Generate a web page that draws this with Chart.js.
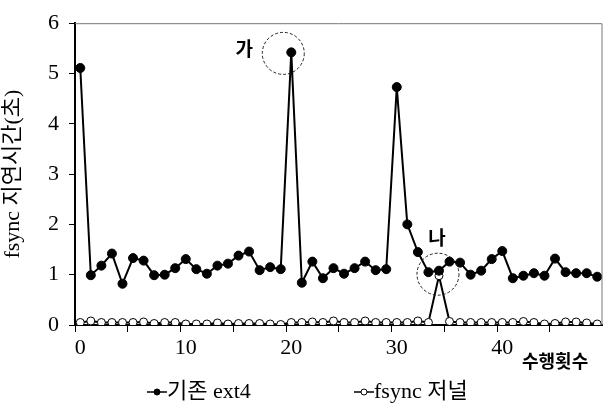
<!DOCTYPE html>
<html>
<head>
<meta charset="utf-8">
<script src="https://cdn.jsdelivr.net/npm/chart.js@4.4.1/dist/chart.umd.min.js"></script>
<style>
    html, body { margin: 0; padding: 0; background: #fff; }
    #wrap { width: 608px; height: 405px; }
</style>
</head>
<body>
<div id="wrap"><canvas id="latencyChart" width="608" height="405"></canvas></div>
<script>
const runs = ['0', '1', '2', '3', '4', '5', '6', '7', '8', '9',
    '10', '11', '12', '13', '14', '15', '16', '17', '18', '19',
    '20', '21', '22', '23', '24', '25', '26', '27', '28', '29',
    '30', '31', '32', '33', '34', '35', '36', '37', '38', '39',
    '40', '41', '42', '43', '44', '45', '46', '47', '48', '49'];

const ext4Delay = [5.11, 0.99, 1.18, 1.42, 0.82, 1.33, 1.28, 0.99, 1.00, 1.13,
    1.31, 1.11, 1.02, 1.18, 1.22, 1.38, 1.46, 1.09, 1.15, 1.11,
    5.42, 0.84, 1.26, 0.93, 1.13, 1.02, 1.13, 1.26, 1.09, 1.11,
    4.73, 2.00, 1.45, 1.05, 1.08, 1.26, 1.24, 1.00, 1.08, 1.31,
    1.47, 0.93, 0.98, 1.03, 0.98, 1.32, 1.05, 1.03, 1.03, 0.96];

const journalDelay = [0.05, 0.08, 0.05, 0.05, 0.05, 0.05, 0.06, 0.03, 0.05, 0.05,
    0.02, 0.02, 0.02, 0.04, 0.02, 0.03, 0.03, 0.03, 0.02, 0.01,
    0.05, 0.05, 0.06, 0.05, 0.08, 0.05, 0.05, 0.08, 0.05, 0.05,
    0.05, 0.05, 0.08, 0.05, 0.98, 0.07, 0.05, 0.05, 0.05, 0.05,
    0.05, 0.05, 0.07, 0.05, 0.02, 0.03, 0.06, 0.06, 0.04, 0.02];

const seriesNames = ['기존 ext4', 'fsync 저널'];
const yTicks = [0, 1, 2, 3, 4, 5, 6];
const xTitle = '수행횟수';
const yTitle = 'fsync 지연시간(초)';
const callouts = [
    { run: 20, text: '가' },
    { run: 34, text: '나' }
];

const serif = "'Liberation Serif', 'Noto Sans CJK KR', serif";
const korean = "'Noto Sans CJK KR', sans-serif";

// little line+dot markers for the legend
function legendMarker(filled) {
    const c = document.createElement('canvas');
    c.width = 20; c.height = 10;
    const g = c.getContext('2d');
    g.strokeStyle = '#000';
    g.lineWidth = 1.5;
    g.beginPath(); g.moveTo(0, 5); g.lineTo(20, 5); g.stroke();
    g.beginPath(); g.arc(10, 5, 3, 0, Math.PI * 2);
    g.fillStyle = filled ? '#000' : '#fff';
    g.fill(); g.lineWidth = 1; g.stroke();
    return c;
}

const extrasPlugin = {
    id: 'extras',
    afterDatasetsDraw(chart) {
        const ctx = chart.ctx;
        const a = chart.chartArea;
        const xs = chart.scales.x, ys = chart.scales.y;
        ctx.save();

        // top and right frame
        ctx.strokeStyle = '#777';
        ctx.lineWidth = 1;
        ctx.beginPath();
        ctx.moveTo(a.left, a.top + 0.5);
        ctx.lineTo(a.right - 0.5, a.top + 0.5);
        ctx.lineTo(a.right - 0.5, a.bottom);
        ctx.stroke();

        // dashed circles + labels
        ctx.setLineDash([3, 2]);
        ctx.strokeStyle = '#222';
        ctx.font = "bold 19px " + korean;
        ctx.fillStyle = '#000';
        ctx.textAlign = 'center';
        ctx.textBaseline = 'middle';
        callouts.forEach((c, k) => {
            const px = xs.getPixelForValue(c.run);
            let cx, cy, tx, ty;
            if (k === 0) {
                const py = ys.getPixelForValue(ext4Delay[c.run]);
                cx = px - 8; cy = py + 1;
                tx = px - 47; ty = py - 4;
            } else {
                const py = ys.getPixelForValue((ext4Delay[c.run] + journalDelay[c.run]) / 2);
                cx = px - 1; cy = py + 1;
                tx = px - 2; ty = py - 35;
            }
            ctx.beginPath();
            ctx.arc(cx, cy, 21, 0, Math.PI * 2);
            ctx.stroke();
            ctx.fillText(c.text, tx, ty);
        });
        ctx.setLineDash([]);

        // x axis title beside the last label
        ctx.font = "bold 18px " + korean;
        ctx.textAlign = 'left';
        ctx.fillText(xTitle, 522, 361);

        // legend
        const items = [
            { x: 147, filled: true, text: seriesNames[0] },
            { x: 354, filled: false, text: seriesNames[1] }
        ];
        ctx.font = "22px " + serif;
        items.forEach(it => {
            ctx.drawImage(legendMarker(it.filled), it.x, 387);
            ctx.fillText(it.text, it.x + 20, 392);
        });
        ctx.restore();
    }
};

new Chart(document.getElementById('latencyChart'), {
    type: 'line',
    data: {
        labels: runs,
        datasets: [
            {
                label: seriesNames[0],
                data: ext4Delay,
                borderColor: '#000',
                borderWidth: 2,
                pointRadius: 4.5,
                pointBackgroundColor: '#000',
                pointBorderColor: '#000',
                pointBorderWidth: 1,
                tension: 0
            },
            {
                label: seriesNames[1],
                data: journalDelay,
                borderColor: '#000',
                borderWidth: 2,
                pointRadius: 4,
                pointBackgroundColor: '#fff',
                pointBorderColor: '#000',
                pointBorderWidth: 1,
                tension: 0
            }
        ]
    },
    options: {
        responsive: false,
        animation: false,
        layout: { padding: { top: 16, right: 2, left: 0, bottom: 0 } },
        plugins: {
            legend: { display: false },
            tooltip: { enabled: false }
        },
        scales: {
            x: {
                offset: true,
                afterFit: s => { s.height = 80; },
                border: { color: '#000', width: 2 },
                grid: {
                    offset: true,
                    drawOnChartArea: false,
                    tickLength: 7,
                    color: c => (c.index % 5 === 0 ? '#000' : 'rgba(0,0,0,0)')
                },
                ticks: {
                    autoSkip: false,
                    maxRotation: 0,
                    padding: 3,
                    color: '#000',
                    font: { family: serif, size: 22 },
                    callback: (v, i) => (i % 10 === 0 ? runs[i] : '')
                }
            },
            y: {
                min: 0,
                max: 6,
                afterFit: s => { s.width = 75; },
                afterBuildTicks: s => { s.ticks = yTicks.map(v => ({ value: v })); },
                border: { color: '#000', width: 2 },
                grid: { drawOnChartArea: false, tickLength: 6, color: '#000' },
                ticks: {
                    padding: 10,
                    color: '#000',
                    font: { family: serif, size: 22 }
                },
                title: {
                    display: true,
                    text: yTitle,
                    color: '#000',
                    padding: 0,
                    font: { family: serif, size: 22 }
                }
            }
        }
    },
    plugins: [extrasPlugin]
});
</script>
</body>
</html>
